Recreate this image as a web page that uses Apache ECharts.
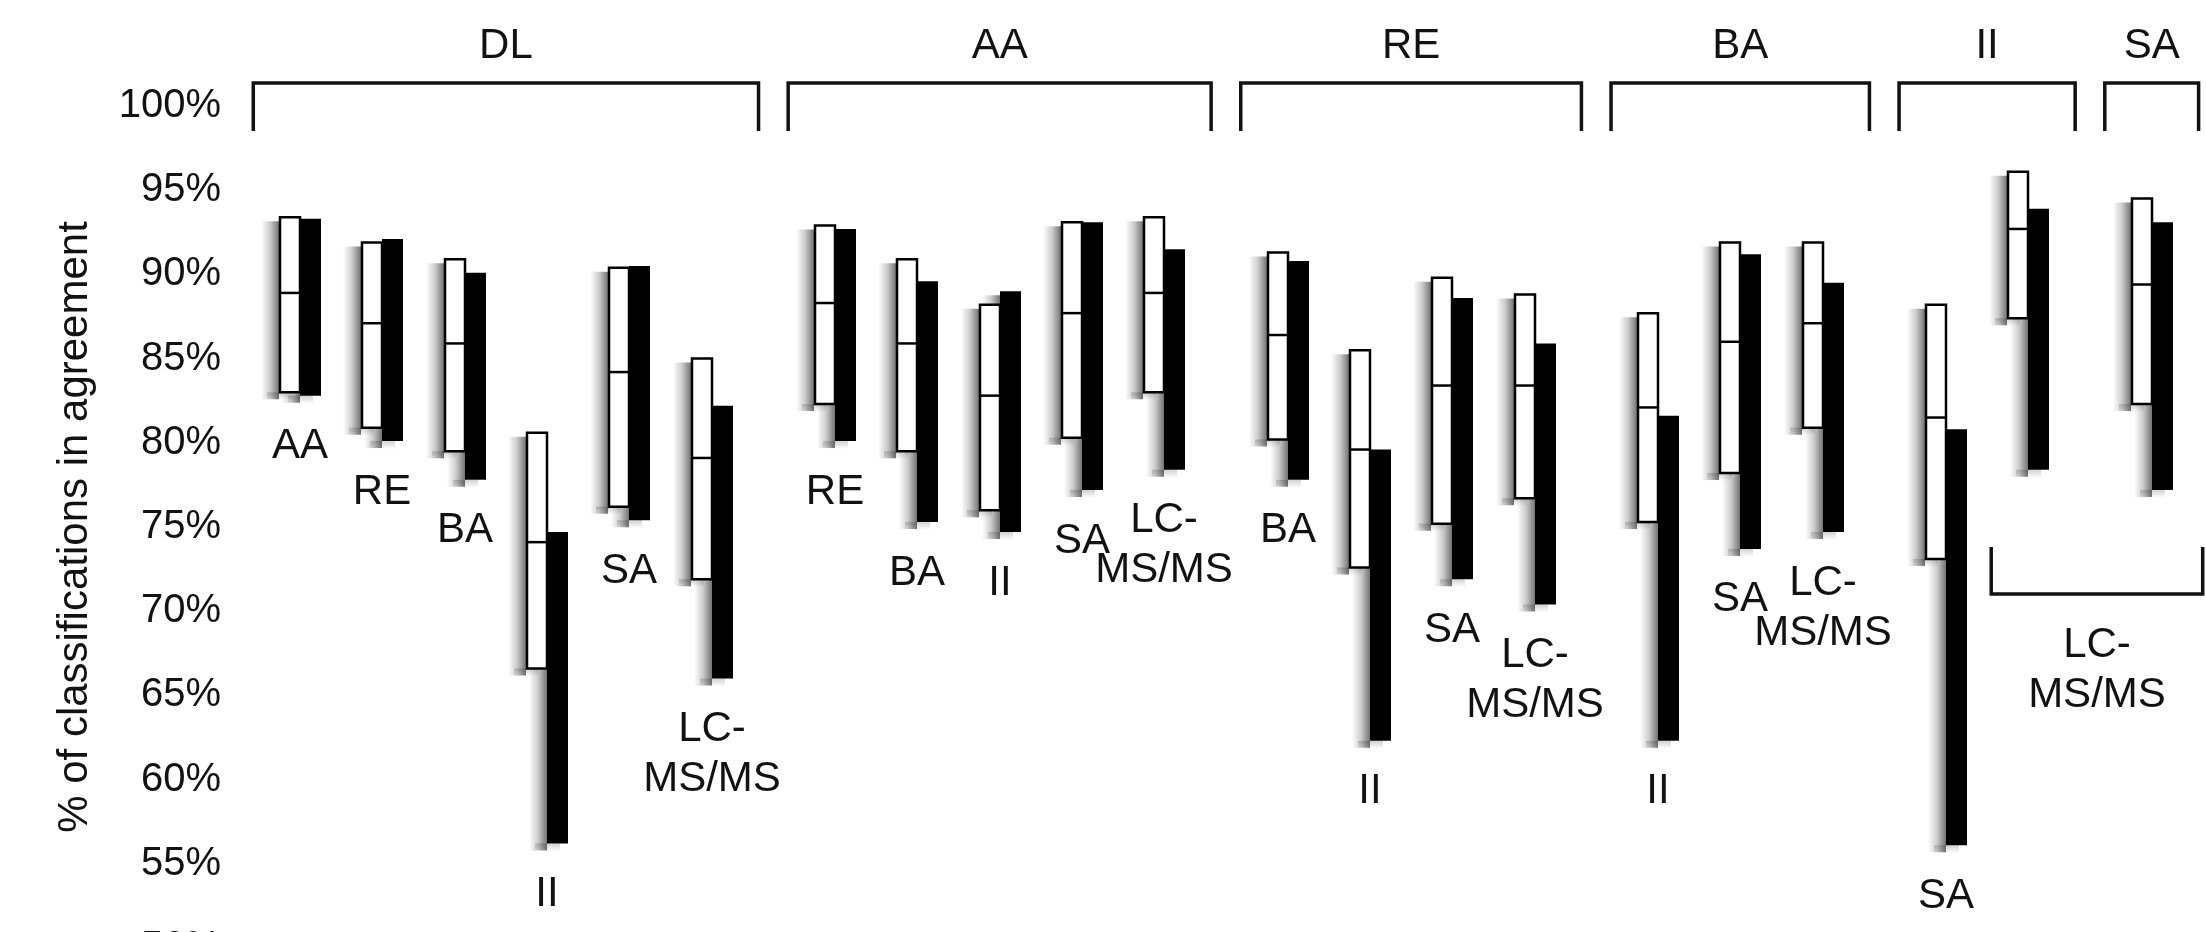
<!DOCTYPE html>
<html>
<head>
<meta charset="utf-8">
<script src="https://cdn.jsdelivr.net/npm/echarts@6.0.0/dist/echarts.min.js"></script>
<style>
html, body { margin: 0; padding: 0; background: #fff; }
#chart { width: 2206px; height: 932px; }
</style>
</head>
<body>
<div id="chart"></div>
<script>
// reference method for each bracket group, and what it is compared with
const groups = ['DL', 'AA', 'RE', 'BA', 'II', 'SA']
const pairGroup = [0, 0, 0, 0, 0, 0, 1, 1, 1, 1, 1, 2, 2, 2, 2, 3, 3, 3, 4, 4, 5]
const pairLabel = ['AA', 'RE', 'BA', 'II', 'SA', 'LC-MS/MS',
    'RE', 'BA', 'II', 'SA', 'LC-MS/MS',
    'BA', 'II', 'SA', 'LC-MS/MS',
    'II', 'SA', 'LC-MS/MS',
    'SA', 'LC-MS/MS',
    'LC-MS/MS']

// white bars (range + median line)
const whiteMax = [93.4, 91.9, 90.9, 80.6, 90.4, 85.0, 92.9, 90.9, 88.2, 93.1, 93.4, 91.3, 85.5, 89.8, 88.8, 87.7, 91.9, 91.9, 88.2, 96.1, 94.5]
const whiteMed = [88.9, 87.1, 85.9, 74.1, 84.2, 79.1, 88.3, 85.9, 82.8, 87.7, 88.9, 86.4, 79.6, 83.4, 83.4, 82.1, 86.0, 87.1, 81.5, 92.7, 89.4]
const whiteMin = [83.0, 80.9, 79.5, 66.6, 76.2, 71.9, 82.3, 79.5, 76.0, 80.3, 83.0, 80.2, 72.6, 75.2, 76.7, 75.3, 78.2, 80.9, 73.1, 87.4, 82.3]
// black bars (range)
const blackMax = [93.3, 92.1, 90.1, 74.7, 90.5, 82.2, 92.7, 89.6, 89.0, 93.1, 91.5, 90.8, 79.6, 88.6, 85.9, 81.6, 91.2, 89.5, 80.8, 93.9, 93.1]
const blackMin = [82.8, 80.1, 77.8, 56.2, 75.4, 66.0, 80.1, 75.3, 74.7, 77.2, 78.4, 77.8, 62.3, 71.9, 70.4, 62.3, 73.7, 74.7, 56.1, 78.4, 77.2]

// the last two pairs share one label under a bracket
const sharedPairs = [19, 20]
const sharedLabel = 'LC-MS/MS'

const yMin = 50
const yMax = 100
const yStep = 5

const font = "'Liberation Sans', Arial, sans-serif"
const ink = '#121212'

const pairX = pairGroup.map((g, i) => i + 0.5 * g)
const pairData = pairX.map((x, i) => [x, whiteMax[i], whiteMed[i], whiteMin[i], blackMax[i], blackMin[i]])
const bracketData = groups.map((g, gi) => {
    const xs = pairX.filter((x, i) => pairGroup[i] === gi)
    return [Math.min(...xs), Math.max(...xs)]
})
const sharedData = [[pairX[sharedPairs[0]], pairX[sharedPairs[sharedPairs.length - 1]], Math.min(...sharedPairs.map((i) => blackMin[i]))]]

const wrap = (s) => s.replace('-', '-\n')

// soft drop shadow on the left of each bar, drawn as gradients
const sideShade = {
    type: 'linear', x: 0, y: 0, x2: 1, y2: 0,
    colorStops: [{ offset: 0, color: 'rgba(0,0,0,0)' }, { offset: 0.5, color: 'rgba(0,0,0,0.2)' }, { offset: 1, color: 'rgba(0,0,0,0.55)' }],
}
const footShade = {
    type: 'linear', x: 0, y: 0, x2: 0, y2: 1,
    colorStops: [{ offset: 0, color: 'rgba(0,0,0,0.18)' }, { offset: 1, color: 'rgba(0,0,0,0)' }],
}
const shadeFor = (x, y, w, h) => [
    { type: 'rect', shape: { x: x - 18, y: y + 4, width: 18, height: h + 3 }, style: { fill: sideShade } },
    { type: 'rect', shape: { x: x - 12, y: y + h, width: w + 4, height: 8 }, style: { fill: footShade } },
]

const renderPair = (params, api) => {
    const x = api.value(0)
    const top = api.coord([x, api.value(1)])
    const med = api.coord([x, api.value(2)])
    const low = api.coord([x, api.value(3)])
    const bTop = api.coord([x, api.value(4)])
    const bLow = api.coord([x, api.value(5)])
    const cx = Math.round(top[0])
    const wh = low[1] - top[1]
    const bh = bLow[1] - bTop[1]
    const whiteShape = { x: cx - 20, y: top[1], width: 20, height: wh }
    const children = [
        ...shadeFor(cx, bTop[1], 21, bh),
        { type: 'rect', shape: { x: cx, y: bTop[1], width: 21, height: bh }, style: { fill: '#000' } },
        ...shadeFor(cx - 21, top[1], 21, wh),
        { type: 'rect', shape: whiteShape, style: { fill: '#fff', stroke: '#000', lineWidth: 2.5 } },
        { type: 'line', shape: { x1: cx - 20, y1: med[1], x2: cx, y2: med[1] }, style: { stroke: '#000', lineWidth: 2.5 } },
    ]
    const i = params.dataIndex
    if (!sharedPairs.includes(i)) {
        children.push({
            type: 'text',
            style: {
                text: wrap(pairLabel[i]), x: cx, y: Math.max(low[1], bLow[1]) + 26,
                align: 'center', verticalAlign: 'top', fontSize: 42, lineHeight: 50, fontFamily: font, fill: ink,
            },
        })
    }
    return { type: 'group', children }
}

const pad = 0.57
const renderBracket = (params, api) => {
    const a = api.coord([api.value(0) - pad, yMax])
    const b = api.coord([api.value(1) + pad, yMax])
    const yLine = a[1] - 23
    const yEnd = a[1] + 25
    return {
        type: 'group',
        children: [
            { type: 'polyline', shape: { points: [[a[0], yEnd], [a[0], yLine], [b[0], yLine], [b[0], yEnd]] }, style: { stroke: ink, lineWidth: 3.5, fill: 'none' } },
            {
                type: 'text',
                style: { text: groups[params.dataIndex], x: (a[0] + b[0]) / 2, y: a[1] - 60, align: 'center', verticalAlign: 'middle', fontSize: 42, fontFamily: font, fill: ink },
            },
        ],
    }
}

const renderShared = (params, api) => {
    const a = api.coord([api.value(0) - 0.45, api.value(2)])
    const b = api.coord([api.value(1) + 0.62, api.value(2)])
    const yStart = a[1] + 57
    const yLine = a[1] + 104
    return {
        type: 'group',
        children: [
            { type: 'polyline', shape: { points: [[a[0], yStart], [a[0], yLine], [b[0], yLine], [b[0], yStart]] }, style: { stroke: ink, lineWidth: 3.5, fill: 'none' } },
            {
                type: 'text',
                style: { text: wrap(sharedLabel), x: (a[0] + b[0]) / 2, y: a[1] + 130, align: 'center', verticalAlign: 'top', fontSize: 42, lineHeight: 50, fontFamily: font, fill: ink },
            },
        ],
    }
}

const chart = echarts.init(document.getElementById('chart'))
chart.setOption({
    animation: false,
    backgroundColor: '#fff',
    grid: { left: 236, right: 0, top: 106, height: 842, containLabel: false, outerBoundsMode: 'none' },
    xAxis: { type: 'value', min: -0.78, max: 23.16, show: false },
    yAxis: {
        type: 'value',
        min: yMin,
        max: yMax,
        interval: yStep,
        axisLine: { show: false },
        axisTick: { show: false },
        splitLine: { show: false },
        axisLabel: { formatter: '{value}%', fontSize: 40, fontFamily: font, color: ink, margin: 15 },
        name: '% of classifications in agreement',
        nameLocation: 'middle',
        nameGap: 140,
        nameTextStyle: { fontSize: 42, fontFamily: font, color: ink },
    },
    series: [
        { type: 'custom', renderItem: renderPair, data: pairData, clip: false, silent: true },
        { type: 'custom', renderItem: renderBracket, data: bracketData, clip: false, silent: true },
        { type: 'custom', renderItem: renderShared, data: sharedData, clip: false, silent: true },
    ],
})
</script>
</body>
</html>
